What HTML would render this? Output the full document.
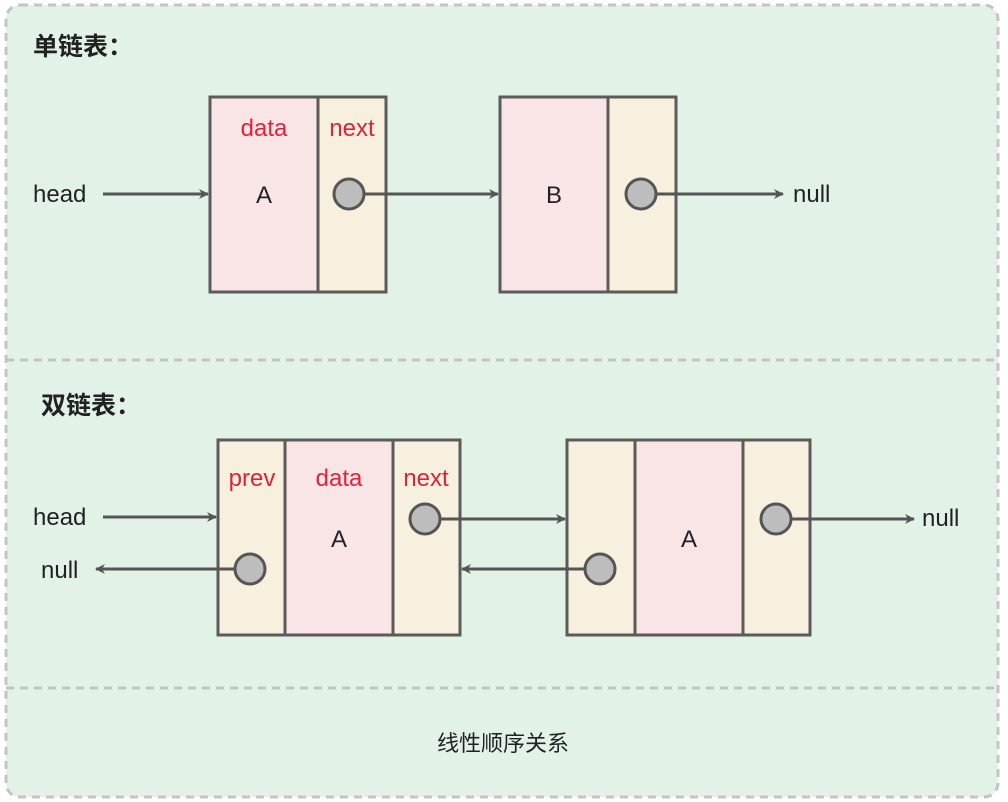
<!DOCTYPE html>
<html><head><meta charset="utf-8"><style>
html,body{margin:0;padding:0;background:#fff;}
svg{display:block;}
text{font-family:"Liberation Sans","Noto Sans CJK SC",sans-serif;}
</style></head><body>
<svg width="1008" height="802" viewBox="0 0 1008 802" xmlns="http://www.w3.org/2000/svg">
<defs>
<marker id="ah" markerWidth="10" markerHeight="10" refX="9" refY="5" orient="auto" markerUnits="userSpaceOnUse" viewBox="0 0 10 10">
<path d="M0,0 L10,5 L0,10 L3,5 z" fill="#555"/>
</marker>
</defs>
<rect x="6" y="5" width="992" height="792" rx="14" fill="#e3f2e6" stroke="#c4c4c4" stroke-width="3" stroke-dasharray="8,6"/>
<line x1="6" y1="360" x2="998" y2="360" stroke="#c4c4c4" stroke-width="3" stroke-dasharray="8,6"/>
<line x1="6" y1="688" x2="998" y2="688" stroke="#c4c4c4" stroke-width="3" stroke-dasharray="8,6"/>

<text x="33" y="55" font-size="25" font-weight="bold" fill="#222">单链表：</text>
<text x="41" y="414" font-size="25" font-weight="bold" fill="#222">双链表：</text>

<g stroke="#5b5b5b" stroke-width="3">
<rect x="210" y="97" width="108" height="195" fill="#fae5e6"/>
<rect x="318" y="97" width="68" height="195" fill="#f8f0df"/>
<rect x="500" y="97" width="108" height="195" fill="#fae5e6"/>
<rect x="608" y="97" width="68" height="195" fill="#f8f0df"/>

<rect x="218" y="440" width="67" height="195" fill="#f8f0df"/>
<rect x="285" y="440" width="108" height="195" fill="#fae5e6"/>
<rect x="393" y="440" width="67" height="195" fill="#f8f0df"/>
<rect x="567" y="440" width="68" height="195" fill="#f8f0df"/>
<rect x="635" y="440" width="108" height="195" fill="#fae5e6"/>
<rect x="743" y="440" width="67" height="195" fill="#f8f0df"/>
</g>

<g stroke="#555" stroke-width="3" fill="none" marker-end="url(#ah)">
<line x1="103" y1="194" x2="208" y2="194"/>
<line x1="364" y1="194" x2="498" y2="194"/>
<line x1="656" y1="194" x2="783" y2="194"/>
<line x1="103" y1="517" x2="216" y2="517"/>
<line x1="235" y1="569" x2="96" y2="569"/>
<line x1="440" y1="519" x2="565" y2="519"/>
<line x1="585" y1="569" x2="462" y2="569"/>
<line x1="791" y1="519" x2="914" y2="519"/>
</g>

<g fill="#bdbdbd" stroke="#555" stroke-width="3">
<circle cx="349" cy="194" r="15"/>
<circle cx="641" cy="194" r="15"/>
<circle cx="425" cy="519" r="15"/>
<circle cx="250" cy="569" r="15"/>
<circle cx="600" cy="569" r="15"/>
<circle cx="776" cy="519" r="15"/>
</g>

<g font-size="24" fill="#222">
<text x="33" y="202">head</text>
<text x="793" y="202">null</text>
<text x="33" y="525">head</text>
<text x="41" y="578">null</text>
<text x="922" y="526">null</text>
<text x="264" y="203" text-anchor="middle">A</text>
<text x="554" y="203" text-anchor="middle">B</text>
<text x="339" y="547" text-anchor="middle">A</text>
<text x="689" y="547" text-anchor="middle">A</text>
</g>
<g font-size="24" fill="#e0213a" text-anchor="middle">
<text x="264" y="136">data</text>
<text x="352" y="136">next</text>
<text x="252" y="486">prev</text>
<text x="339" y="486">data</text>
<text x="426" y="486">next</text>
</g>
<text x="503" y="751" font-size="22" fill="#222" text-anchor="middle">线性顺序关系</text>
</svg>
</body></html>
